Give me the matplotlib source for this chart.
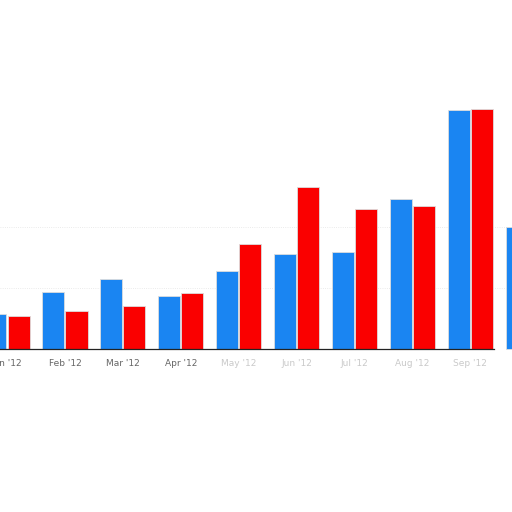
import matplotlib
matplotlib.use("Agg")
import matplotlib.pyplot as plt
import numpy as np

months = ["Jan '12", "Feb '12", "Mar '12", "Apr '12", "May '12",
          "Jun '12", "Jul '12", "Aug '12", "Sep '12", "Oct '12"]
series_a = [57, 93, 114, 87, 128, 156, 159, 246, 391, 200]
series_b = [54, 63, 70, 92, 172, 265, 230, 235, 393, 0]

fig = plt.figure(figsize=(5.12, 5.12), dpi=100)
ax = fig.add_axes([0, 0, 1, 1])

x = np.arange(len(months))
w = 0.38
ax.bar(x - 0.2, series_a, w, color="#1a85f2", edgecolor="#dddddd", linewidth=0.6, zorder=3)
ax.bar(x + 0.2, series_b, w, color="#fa0000", edgecolor="#dddddd", linewidth=0.6, zorder=3)

# faint grid lines
for g in (100, 200):
    ax.axhline(g, color="#e4e4e4", linewidth=0.6, linestyle=":", zorder=1)
ax.axhline(0, xmax=0.965, color="#222222", linewidth=0.9, zorder=4)

xmax = 8.72
for xi, lab in zip(x, months):
    if xi > xmax - 0.3:
        continue  # label falls outside the visible area
    alpha = 1.0 if xi < 4 else 0.35
    ax.text(xi, -23, lab, ha="center", va="center", fontsize=6.5,
            color="#666666", alpha=alpha)

ax.set_xlim(-0.121, xmax)
ax.set_ylim(-267, 572)
ax.axis("off")

fig.savefig("out.png", dpi=100)
